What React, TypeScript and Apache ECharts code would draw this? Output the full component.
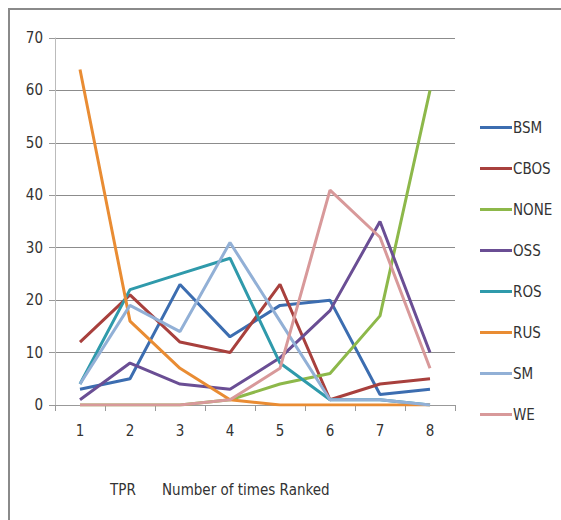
import React, { useEffect, useRef } from "react";
import * as echarts from "echarts";

const categories = ["1", "2", "3", "4", "5", "6", "7", "8"];
const seriesNames = ["BSM", "CBOS", "NONE", "OSS", "ROS", "RUS", "SM", "WE"];
const bsm = [3, 5, 23, 13, 19, 20, 2, 3];
const cbos = [12, 21, 12, 10, 23, 1, 4, 5];
const none = [0, 0, 0, 1, 4, 6, 17, 60];
const oss = [1, 8, 4, 3, 9, 18, 35, 10];
const ros = [4, 22, 25, 28, 8, 1, 1, 0];
const rus = [64, 16, 7, 1, 0, 0, 0, 0];
const sm = [4, 19, 14, 31, 16, 1, 1, 0];
const we = [0, 0, 0, 1, 7, 41, 32, 7];
const seriesValues = [bsm, cbos, none, oss, ros, rus, sm, we];
const colors = ["#3C6DB0", "#A8403D", "#8DB84A", "#6A4E94", "#2F9AAB", "#E98C33", "#92B0D6", "#D8999A"];
const yTicks = [0, 10, 20, 30, 40, 50, 60, 70];

const FONT = "'Liberation Sans Narrow', 'DejaVu Sans Condensed', 'Open Sans', sans-serif";

export default function App() {
  const ref = useRef<HTMLDivElement>(null);
  useEffect(() => {
    if (!ref.current) return;
    const chart = echarts.init(ref.current, null, { renderer: "svg" });
    chart.setOption({
      animation: false,
      backgroundColor: "#ffffff",
      color: colors,
      textStyle: { fontFamily: FONT },
      grid: { left: 55, right: 106, top: 38, bottom: 115, containLabel: false },
      legend: {
        orient: "vertical",
        left: 475,
        top: 115,
        itemWidth: 32,
        itemHeight: 14,
        itemGap: 26,
        data: seriesNames.map((n, i) => ({ name: n, icon: "path://M0,6 L32,6 L32,9 L0,9 Z", itemStyle: { color: colors[i] } })),
        textStyle: { fontFamily: FONT, fontSize: 15, color: "#333", padding: [0, 0, 0, -4] },
      },
      xAxis: {
        type: "category",
        data: categories,
        boundaryGap: true,
        axisLine: { lineStyle: { color: "#999", width: 1 } },
        axisTick: { show: true, length: 6, lineStyle: { color: "#999" } },
        axisLabel: { fontFamily: FONT, fontSize: 15, color: "#333", margin: 18 },
      },
      yAxis: {
        type: "value",
        min: 0,
        max: 70,
        interval: 10,
        axisLine: { show: true, lineStyle: { color: "#bbb", width: 1 } },
        axisTick: { show: true, length: 6, lineStyle: { color: "#999" } },
        splitLine: { lineStyle: { color: "#8c8c8c", width: 1 } },
        axisLabel: {
          fontFamily: FONT,
          fontSize: 15,
          color: "#333",
          margin: 12,
          formatter: (v: number) => (yTicks.includes(v) ? String(v) : ""),
        },
      },
      graphic: [
        {
          type: "rect",
          x: 9,
          y: 9,
          shape: { x: 0, y: 0, width: 700, height: 700 },
          style: { fill: "none", stroke: "#8a8a8a", lineWidth: 2 },
          silent: true,
        },
        {
          type: "text",
          left: 110,
          top: 482,
          style: { text: "TPR", fontFamily: FONT, fontSize: 15, fill: "#333" },
        },
        {
          type: "text",
          left: 162,
          top: 482,
          style: { text: "Number of times Ranked", fontFamily: FONT, fontSize: 15, fill: "#333" },
        },
      ],
      series: seriesNames.map((n, i) => ({
        name: n,
        type: "line",
        data: seriesValues[i],
        symbol: "none",
        lineStyle: { width: 3, color: colors[i] },
        itemStyle: { color: colors[i] },
      })),
    });
    return () => chart.dispose();
  }, []);
  return <div ref={ref} style={{ width: 561, height: 520, position: "absolute", left: 0, top: 0 }} />;
}
